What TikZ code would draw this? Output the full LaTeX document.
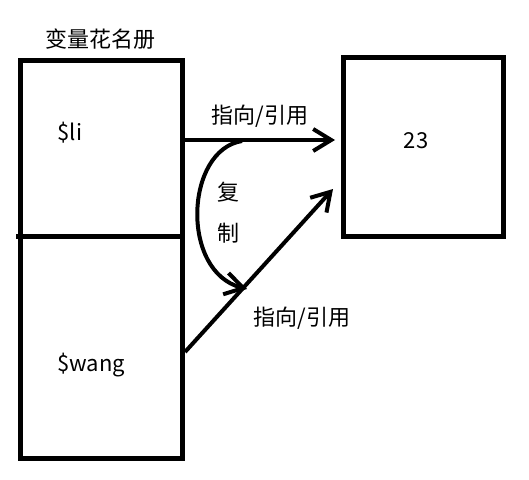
\documentclass[tikz,border=0pt]{standalone}
\usepackage{fontspec}
\setmainfont{Noto Sans CJK SC}
\usetikzlibrary{positioning,arrows.meta}
\tikzset{
  cell/.style={draw, line width=5, minimum width=162, minimum height=176, inner sep=0, outer sep=0},
  lbl/.style={font=\fontsize{22}{26}\selectfont, inner sep=0},
  ref/.style={line width=4, -{Straight Barb[length=18, width=22, line width=4]}},
}
\begin{document}
\begin{tikzpicture}[x=1pt,y=-1pt]
\useasboundingbox (0,0) rectangle (529,479);

% boxes
\node [cell, anchor=north west] (li) at (20,60) {};
\node [cell, minimum height=222, below=0 of li] (wang) {};
\node [cell, minimum width=160, minimum height=179, anchor=north west] (val) at (343,57) {};
\coordinate (cut) at (16,236);
\draw [line width=5] (cut) -- (li.south east);

% text
\node [lbl] (title) at (100,39) {变量花名册};
\node [lbl] (liname) at (70,133) {\$li};
\node [lbl] (wangname) at (91,365) {\$wang};
\node [lbl] (num) at (416,141) {23};
\node [lbl] (ref1) at (260,116) {指向/引用};
\node [lbl] (ref2) at (302,318) {指向/引用};
\node [lbl] (fu) at (228,192) {复};
\node [lbl] (zhi) at (228,233) {制};

% connectors
\coordinate (lifrom) at (182,140);
\coordinate (lito) at (335,140);
\coordinate (wangfrom) at (185,352);
\coordinate (wangto) at (333,189);
\draw [ref] (lifrom) -- (lito);
\draw [ref] (wangfrom) -- (wangto);
\coordinate (cpstart) at (242,141);
\coordinate (cpend) at (247,289);
\draw [ref] (cpstart) .. controls (185,150) and (180,272) .. (cpend);

\end{tikzpicture}
\end{document}
